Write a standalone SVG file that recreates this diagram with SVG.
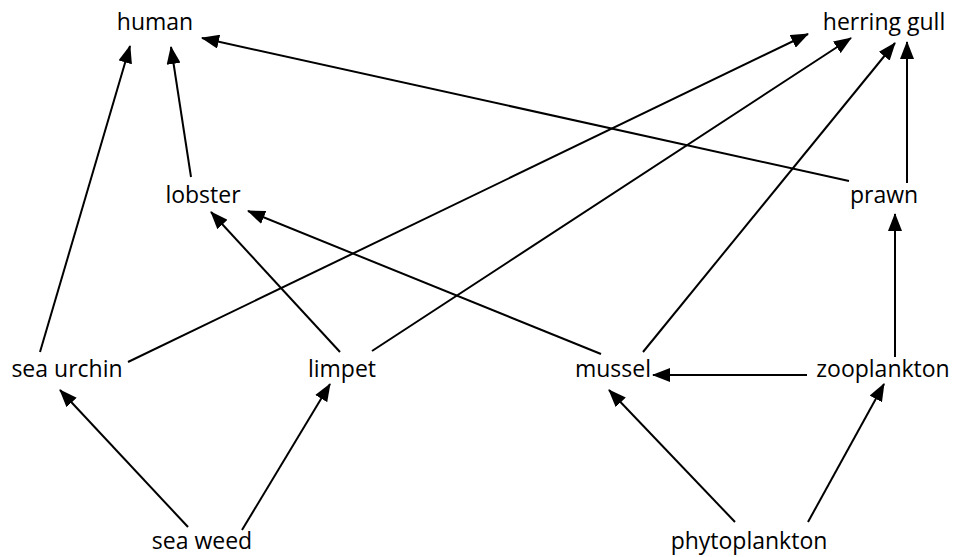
<svg xmlns="http://www.w3.org/2000/svg" width="956" height="557" viewBox="0 0 956 557">
<style>
text{font-family:"Open Sans","Liberation Sans",sans-serif;font-size:23px;fill:#000;text-anchor:middle}
.e line{stroke:#000;stroke-width:2;marker-end:url(#ah)}
</style>
<defs>
<marker id="ah" markerUnits="userSpaceOnUse" markerWidth="18" markerHeight="14" viewBox="0 0 18 14" refX="17" refY="7" orient="auto">
<path d="M0,0 L18,7 L0,14 Z" fill="#000"/>
</marker>
</defs>
<rect width="956" height="557" fill="#fff"/>
<g class="e" id="edges">
<line x1="40" y1="352" x2="130" y2="46"/>
<line x1="191" y1="177" x2="171" y2="47"/>
<line x1="849" y1="181" x2="202" y2="38"/>
<line x1="128" y1="362" x2="808" y2="34"/>
<line x1="372" y1="351" x2="851" y2="38"/>
<line x1="643" y1="352" x2="895" y2="43"/>
<line x1="907" y1="183" x2="907" y2="42"/>
<line x1="340" y1="352" x2="211" y2="212"/>
<line x1="601" y1="354" x2="248" y2="211"/>
<line x1="807" y1="375" x2="653" y2="375"/>
<line x1="895" y1="357" x2="895" y2="214"/>
<line x1="188" y1="527" x2="60" y2="390"/>
<line x1="242" y1="530" x2="330" y2="384"/>
<line x1="735" y1="522" x2="609" y2="390"/>
<line x1="808" y1="522" x2="884" y2="384"/>
</g>
<g id="human"><text x="155" y="30">human</text></g>
<g id="herring-gull"><text x="884" y="30">herring gull</text></g>
<g id="lobster"><text x="203" y="203">lobster</text></g>
<g id="prawn"><text x="884" y="203">prawn</text></g>
<g id="sea-urchin"><text x="67" y="377">sea urchin</text></g>
<g id="limpet"><text x="342" y="377">limpet</text></g>
<g id="mussel"><text x="613" y="377">mussel</text></g>
<g id="zooplankton"><text x="883" y="377">zooplankton</text></g>
<g id="sea-weed"><text x="202" y="549">sea weed</text></g>
<g id="phytoplankton"><text x="749" y="549">phytoplankton</text></g>
</svg>
